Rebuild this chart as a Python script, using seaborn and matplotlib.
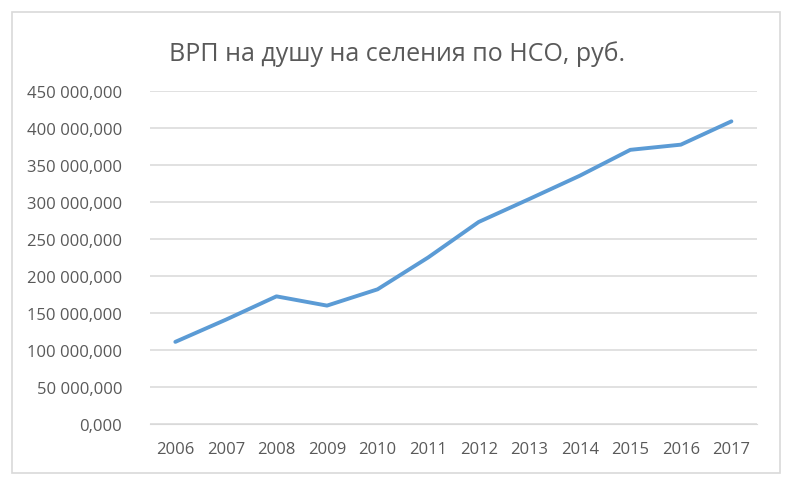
import matplotlib
matplotlib.use("Agg")
import matplotlib.pyplot as plt
import seaborn as sns
import pandas as pd
from matplotlib.patches import Rectangle
from matplotlib.ticker import FuncFormatter, MultipleLocator

years = ['2006', '2007', '2008', '2009', '2010', '2011',
         '2012', '2013', '2014', '2015', '2016', '2017']
grp = [111000, 141000, 172500, 160000, 182000, 225000,
       273000, 304000, 335500, 370500, 377500, 409000]
title = 'ВРП на душу на селения по НСО, руб.'

df = pd.DataFrame({'year': years, 'grp': grp})

sns.set_style('white')
plt.rcParams['font.family'] = ['Open Sans', 'DejaVu Sans']

fig = plt.figure(figsize=(7.94, 4.85), dpi=100)
ax = fig.add_axes([0.189, 0.1237, 0.764, 0.6866])

sns.lineplot(x='year', y='grp', data=df, ax=ax, color='#5B9BD5', linewidth=2.8)

ax.set_xlim(-0.5, len(years) - 0.5)
ax.set_ylim(0, 450000)
ax.yaxis.set_major_locator(MultipleLocator(50000))
ax.yaxis.set_major_formatter(FuncFormatter(
    lambda v, p: f'{v:,.3f}'.replace(',', ' ').replace('.', ',')))
ax.grid(axis='y', color='#D9D9D9', linewidth=1.1)
ax.set_axisbelow(True)
for s in ax.spines.values():
    s.set_visible(False)
ax.spines['bottom'].set_visible(True)
ax.spines['bottom'].set_color('#D9D9D9')
ax.tick_params(axis='both', length=0, labelsize=12, colors='#595959')
ax.tick_params(axis='y', pad=20)
ax.tick_params(axis='x', pad=12)
ax.set_xlabel('')
ax.set_ylabel('')

fig.text(0.5, 0.888, title, ha='center', va='center', fontsize=18, color='#595959')
fig.patches.append(Rectangle((0.0151, 0.0227), 0.967, 0.9505, transform=fig.transFigure,
                             fill=False, edgecolor='#D9D9D9', linewidth=1.2))

fig.savefig('out.png', dpi=100)
